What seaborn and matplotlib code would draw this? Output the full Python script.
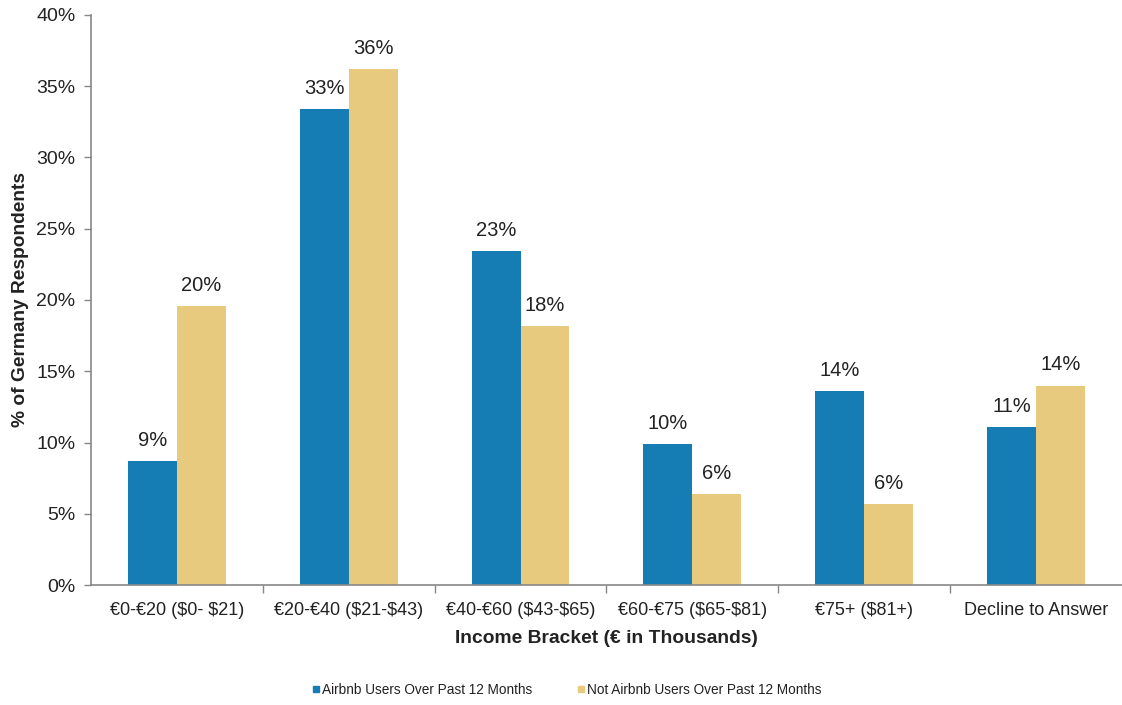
import matplotlib
matplotlib.use("Agg")
import matplotlib.pyplot as plt
import seaborn as sns
import pandas as pd
import numpy as np
from matplotlib.lines import Line2D
from matplotlib.ticker import FixedLocator

categories = ["€0-€20 ($0- $21)", "€20-€40 ($21-$43)", "€40-€60 ($43-$65)",
              "€60-€75 ($65-$81)", "€75+ ($81+)", "Decline to Answer"]
series_names = ["Airbnb Users Over Past 12 Months", "Not Airbnb Users Over Past 12 Months"]
airbnb_users = [8.7, 33.4, 23.4, 9.9, 13.6, 11.1]
not_airbnb_users = [19.6, 36.2, 18.2, 6.4, 5.7, 14.0]
y_ticks = [0, 5, 10, 15, 20, 25, 30, 35, 40]
colors = ["#157DB4", "#E8CA7E"]

df = pd.DataFrame({
    "category": categories * 2,
    "value": airbnb_users + not_airbnb_users,
    "series": [series_names[0]] * len(categories) + [series_names[1]] * len(categories),
})

sns.set_theme(style="white")
plt.rcParams['font.family'] = ['Liberation Sans', 'DejaVu Sans']
plt.rcParams['text.parse_math'] = False
text_color = "#222222"

fig = plt.figure(figsize=(11.22, 7.05), dpi=100)
ax = fig.add_axes([0.081, 0.170, 0.919, 0.809])

sns.barplot(data=df, x="category", y="value", hue="series", palette=colors,
            width=0.57, saturation=1, ax=ax, legend=False, linewidth=0)

for cont in ax.containers:
    labels = [f"{round(b.get_height()):.0f}%" for b in cont]
    ax.bar_label(cont, labels=labels, padding=8, fontsize=14.5, color=text_color)

ax.set_ylim(0, 40)
ax.set_xlim(-0.5, len(categories) - 0.5)
ax.set_yticks(y_ticks)
ax.set_yticklabels([f"{t}%" for t in y_ticks], fontsize=14, color=text_color)
ax.tick_params(axis="y", which="major", length=5, width=1, color="#888888", left=True, pad=6)

ax.set_xticks(range(len(categories)))
ax.set_xticklabels(categories, fontsize=13, color=text_color)
ax.tick_params(axis="x", which="major", length=0, pad=12)
ax.xaxis.set_minor_locator(FixedLocator(np.arange(0.5, len(categories) - 0.5, 1)))
ax.tick_params(axis="x", which="minor", length=6, width=1, color="#888888", bottom=True)

for s in ["top", "right"]:
    ax.spines[s].set_visible(False)
for s in ["left", "bottom"]:
    ax.spines[s].set_color("#888888")
    ax.spines[s].set_linewidth(1.2)

ax.set_xlabel("Income Bracket (€ in Thousands)", fontsize=13.9, fontweight="bold",
              color=text_color, labelpad=8)
ax.set_ylabel("% of Germany Respondents", fontsize=13.8, fontweight="bold",
              color=text_color, labelpad=5)

handles = [Line2D([0], [0], marker="s", linestyle="none", markersize=5,
                  markerfacecolor=c, markeredgecolor=c) for c in colors]
fig.legend(handles, series_names, loc="center", bbox_to_anchor=(0.505, 0.021),
           ncol=2, frameon=False, fontsize=9.8, handletextpad=0.1, columnspacing=3.2,
           handlelength=0.7, labelcolor=text_color)

fig.savefig("out.png", dpi=100)
